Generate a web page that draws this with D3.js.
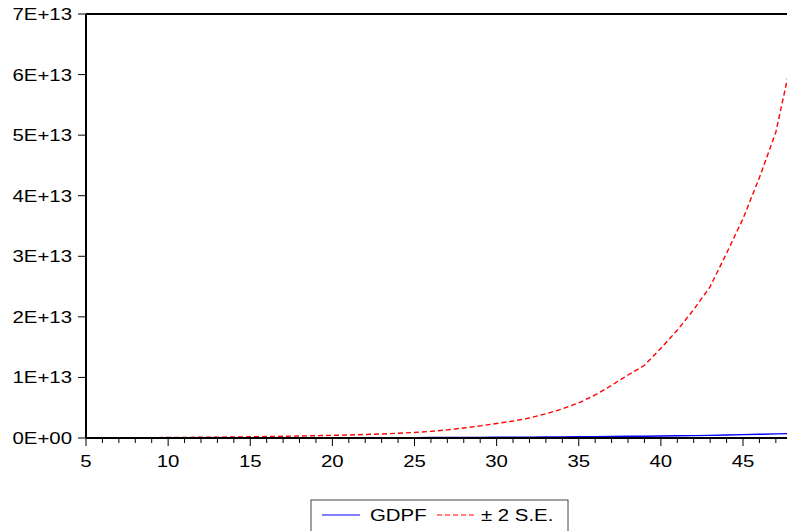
<!DOCTYPE html>
<html><head><meta charset="utf-8">
<script src="https://cdn.jsdelivr.net/npm/d3@7"></script>
<style>body{margin:0;background:#fff;} svg{display:block;} text{font-family:"Liberation Sans",Arial,sans-serif;fill:#000;}</style>
</head><body><svg id="c" width="787" height="531"></svg>
<script>
const periods = d3.range(5, 49);
// upper band (+2 S.E.), units of 1E13, periods 5..48
const upperBand = [0.002,0.003,0.004,0.005,0.006,0.008,0.010,0.012,0.014,0.017,0.020,0.024,0.028,0.033,0.038,0.044,0.050,0.058,0.067,0.078,0.092,0.11,0.135,0.165,
  0.20,0.24,0.28,0.33,0.40,0.48,0.58,0.71,0.87,1.04,1.20,1.48,1.78,2.12,2.50,3.05,3.62,4.30,5.05,6.30];
// forecast GDPF, units of 1E13, periods 5..48
const gdpf = [0.0005,0.0006,0.0007,0.0008,0.0009,0.001,0.0012,0.0014,0.0016,0.0018,0.002,0.0023,0.0026,0.003,0.0035,0.004,0.0045,0.005,0.0055,0.006,0.007,0.0078,0.0087,0.0096,0.0105,0.012,0.013,0.0145,0.016,0.018,0.02,0.022,0.025,0.028,0.03,0.033,0.036,0.04,0.044,0.049,0.055,0.061,0.068,0.075];
const yTicks = [0,1,2,3,4,5,6,7];
const yTickLabels = ["0E+00","1E+13","2E+13","3E+13","4E+13","5E+13","6E+13","7E+13"];
const xTicks = [5,10,15,20,25,30,35,40,45];
const legendLabels = ["GDPF","\u00b1 2 S.E."];

const svg = d3.select("#c");
const L = 86, T = 14, B = 438;
const x = d3.scaleLinear().domain([5, 48]).range([L, L + 43 * 16.425]);
const y = d3.scaleLinear().domain([0, 7]).range([B, T]);
const SX = 1.2, FS = 17;

function txt(g, s, px, py, anchor) {
  g.append("text").attr("transform", `translate(${px},${py}) scale(${SX},1)`)
    .attr("text-anchor", anchor).style("font-size", FS + "px").text(s);
}

svg.append("defs").append("clipPath").attr("id", "clip")
  .append("rect").attr("x", L).attr("y", T).attr("width", 787 - L).attr("height", B - T);

const plot = svg.append("g").attr("clip-path", "url(#clip)");
const line = (arr) => d3.line().x((d, i) => x(periods[i])).y(d => y(d))(arr);
plot.append("path").attr("d", line(upperBand))
  .attr("fill", "none").attr("stroke", "#ff0000").attr("stroke-width", 1.4).attr("stroke-dasharray", "5,3");
plot.append("path").attr("d", line(gdpf))
  .attr("fill", "none").attr("stroke", "#0000ff").attr("stroke-width", 1.4);

// frame
svg.append("line").attr("x1", L).attr("x2", 787).attr("y1", T).attr("y2", T).attr("stroke", "#000").attr("stroke-width", 2);
svg.append("line").attr("x1", L).attr("x2", L).attr("y1", T).attr("y2", B).attr("stroke", "#000").attr("stroke-width", 2);
svg.append("line").attr("x1", L).attr("x2", 787).attr("y1", B).attr("y2", B).attr("stroke", "#000").attr("stroke-width", 2);

// x ticks
const xg = svg.append("g");
d3.range(5, 48).forEach(v => {
  const major = v % 5 === 0;
  xg.append("line").attr("x1", x(v)).attr("x2", x(v)).attr("y1", B).attr("y2", B + (major ? 8 : 5))
    .attr("stroke", "#000").attr("stroke-width", 1);
});
xTicks.forEach(v => txt(xg, String(v), x(v), 467, "middle"));

// y ticks
const yg = svg.append("g");
yTicks.forEach((v, i) => {
  yg.append("line").attr("x1", L - 8).attr("x2", L).attr("y1", y(v)).attr("y2", y(v)).attr("stroke", "#000").attr("stroke-width", 1);
  txt(yg, yTickLabels[i], 72, y(v) + 6, "end");
});

// legend
const lg = svg.append("g");
lg.append("rect").attr("x", 311).attr("y", 500).attr("width", 257).attr("height", 40)
  .attr("fill", "#fff").attr("stroke", "#444").attr("stroke-width", 1);
lg.append("line").attr("x1", 322).attr("x2", 360).attr("y1", 515).attr("y2", 515).attr("stroke", "#0000ff").attr("stroke-width", 1.2);
txt(lg, legendLabels[0], 370, 521, "start");
lg.append("line").attr("x1", 437).attr("x2", 475).attr("y1", 515).attr("y2", 515).attr("stroke", "#ff0000").attr("stroke-width", 1.2).attr("stroke-dasharray", "5,3");
txt(lg, legendLabels[1], 481, 521, "start");
</script></body></html>
